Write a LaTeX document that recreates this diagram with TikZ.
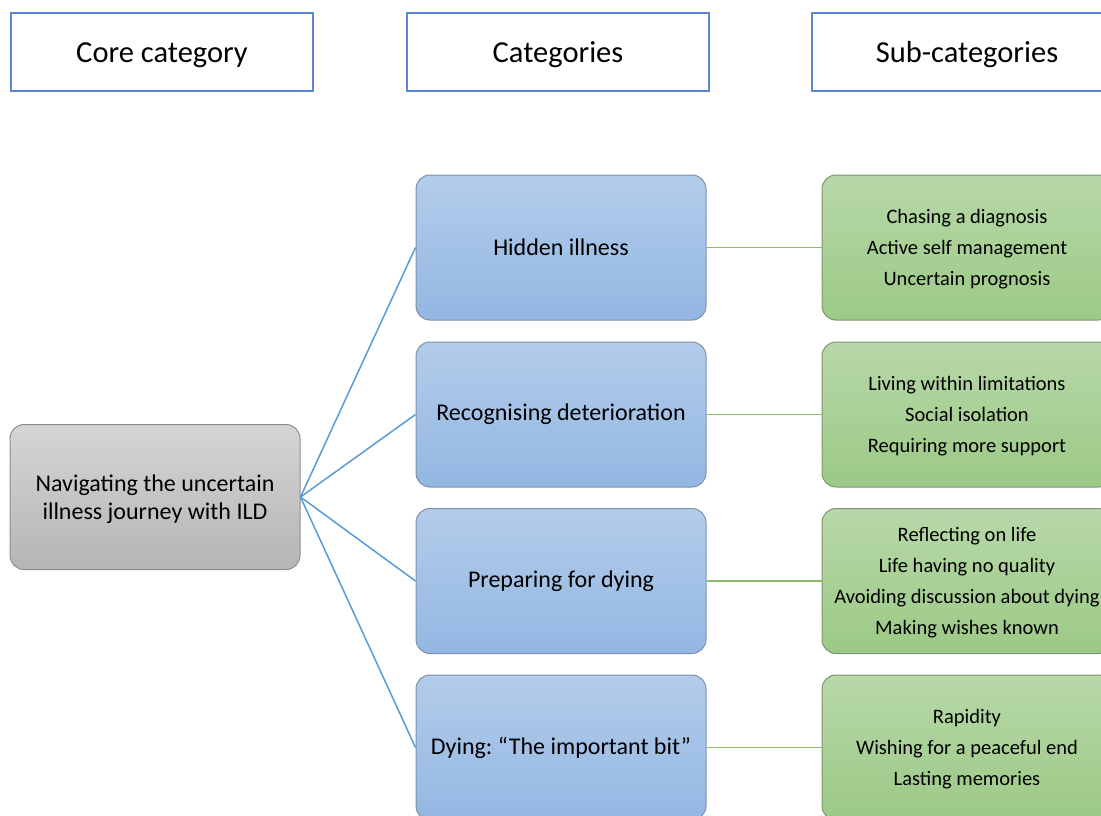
\documentclass[tikz,border=0pt]{standalone}
\usepackage{fontspec}
\setmainfont{Carlito}
\frenchspacing
\definecolor{headline}{HTML}{5B87D0}
\definecolor{linkblue}{HTML}{5B9BD5}
\definecolor{linkgreen}{HTML}{86BE62}
\definecolor{bluetop}{HTML}{B3CCEA}
\definecolor{bluebot}{HTML}{93B7E3}
\definecolor{blueedge}{HTML}{7E91A8}
\definecolor{greentop}{HTML}{B7D8A9}
\definecolor{greenbot}{HTML}{9CC985}
\definecolor{greenedge}{HTML}{7F9672}
\definecolor{graytop}{HTML}{D5D5D5}
\definecolor{graybot}{HTML}{B5B5B5}
\definecolor{grayedge}{HTML}{8E8E8E}
% centred lines, set a little lower than the box centre
\newcommand{\lowered}[2]{\raisebox{-#1}[\height][\depth]{\begin{tabular}{@{}c@{}}#2\end{tabular}}}
\begin{document}
\begin{tikzpicture}[x=1pt,y=-1pt,
  header/.style={draw=headline, line width=1.1pt, fill=white,
    minimum width=302pt, minimum height=78pt, inner sep=0pt,
    font=\fontsize{30.5}{36}\selectfont},
  card/.style={rounded corners=14pt, line width=1pt,
    minimum width=290pt, minimum height=145pt, inner sep=2pt, align=center},
  corebox/.style={card, draw=grayedge, top color=graytop, bottom color=graybot,
    font=\fontsize{24}{28}\selectfont},
  catbox/.style={card, draw=blueedge, top color=bluetop, bottom color=bluebot,
    font=\fontsize{24}{28}\selectfont},
  subbox/.style={card, draw=greenedge, top color=greentop, bottom color=greenbot,
    font=\fontsize{20.5}{31}\selectfont},
  bluelink/.style={draw=linkblue, line width=1.5pt},
  greenlink/.style={draw=linkgreen, line width=1.5pt}]
\path[use as bounding box, clip] (0,0) rectangle (1101,816);
\fill[white] (0,0) rectangle (1101,816);

% column headings
\node[header] (hcore) at (162,52) {\lowered{3pt}{Core category}};
\node[header] (hcat)  at (558,52) {\lowered{3pt}{Categories}};
\node[header, minimum width=310pt] (hsub) at (967,52) {\lowered{3pt}{Sub-categories}};

% core category
\node[corebox] (core) at (155,497) {\lowered{3pt}{Navigating the uncertain\\illness journey with ILD}};

% categories
\node[catbox] (c1) at (561,247.5) {Hidden illness};
\node[catbox] (c2) at (561,414.5) {Recognising deterioration};
\node[catbox] (c3) at (561,581)   {Preparing for dying};
\node[catbox] (c4) at (561,747.5) {Dying: “The important bit”};

% sub-categories
\node[subbox] (s1) at (967,247.5) {\lowered{1pt}{Chasing a diagnosis\\Active self management\\Uncertain prognosis}};
\node[subbox] (s2) at (967,414.5) {\lowered{1pt}{Living within limitations\\Social isolation\\Requiring more support}};
\node[subbox] (s3) at (967,581)   {\lowered{1pt}{Reflecting on life\\Life having no quality\\Avoiding discussion about dying\\Making wishes known}};
\node[subbox] (s4) at (967,747.5) {\lowered{1pt}{Rapidity\\Wishing for a peaceful end\\Lasting memories}};

% connectors
\foreach \c in {c1,c2,c3,c4}
  \draw[bluelink] (core.east) -- (\c.west);
\draw[greenlink] (c1.east) -- (s1.west);
\draw[greenlink] (c2.east) -- (s2.west);
\draw[greenlink] (c3.east) -- (s3.west);
\draw[greenlink] (c4.east) -- (s4.west);
\end{tikzpicture}
\end{document}
